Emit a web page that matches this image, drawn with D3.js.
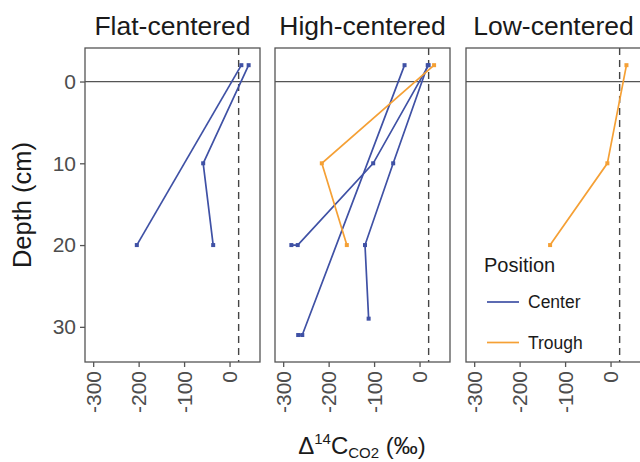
<!DOCTYPE html>
<html>
<head>
<meta charset="utf-8">
<script src="https://cdn.jsdelivr.net/npm/d3@7/dist/d3.min.js"></script>
<style>
  body { margin: 0; background: #fff; }
  svg { display: block; font-family: "Liberation Sans", Arial, sans-serif; }
</style>
</head>
<body>
<svg id="chart" width="640" height="462"></svg>
<script>
// ---------------- data ----------------
const facets = ["Flat-centered", "High-centered", "Low-centered"];
const positions = ["Center", "Trough"];
const xTicks = [-300, -200, -100, 0];
const yTicks = [0, 10, 20, 30];
const atmosphereValue = 20;   // dashed reference line (‰)

// each profile: facet, position, depths (cm), Δ14C values (‰)
const flatCenter1Depth = [-2, 20];
const flatCenter1Value = [26, -204];
const flatCenter2Depth = [-2, 10, 20];
const flatCenter2Value = [42, -58, -36];

const highCenter1Depth = [-2, 31, 31];
const highCenter1Value = [-33, -258, -267];
const highCenter2Depth = [-2, 10, 20, 20];
const highCenter2Value = [20, -102, -268, -282];
const highCenter3Depth = [-2, 10, 20, 29];
const highCenter3Value = [18, -58, -120, -112];
const highTrough1Depth = [-2, 10, 20];
const highTrough1Value = [32, -215, -160];

const lowTrough1Depth = [-2, 10, 20];
const lowTrough1Value = [35, -7, -133];

const profiles = [
  { facet: "Flat-centered", position: "Center", depth: flatCenter1Depth, value: flatCenter1Value },
  { facet: "Flat-centered", position: "Center", depth: flatCenter2Depth, value: flatCenter2Value },
  { facet: "High-centered", position: "Center", depth: highCenter1Depth, value: highCenter1Value },
  { facet: "High-centered", position: "Center", depth: highCenter2Depth, value: highCenter2Value },
  { facet: "High-centered", position: "Center", depth: highCenter3Depth, value: highCenter3Value },
  { facet: "High-centered", position: "Trough", depth: highTrough1Depth, value: highTrough1Value },
  { facet: "Low-centered",  position: "Trough", depth: lowTrough1Depth,  value: lowTrough1Value }
];

// ---------------- layout ----------------
const svg = d3.select("#chart");
const panelLefts = [85, 275, 466];
const panelWidth = 175;
const plotTop = 48, plotBottom = 362;
const color = d3.scaleOrdinal().domain(positions).range(["#3F51A5", "#F5A035"]);
const tickColor = "#4d4d4d";

const y = d3.scaleLinear().domain([-4.1, 34.3]).range([plotTop, plotBottom]);

facets.forEach((f, i) => {
  const x0 = panelLefts[i];
  const x = d3.scaleLinear().domain([-318, 67]).range([x0, x0 + panelWidth]);
  const g = svg.append("g");

  // strip title
  g.append("text")
    .attr("x", x0 + panelWidth / 2).attr("y", 35)
    .attr("text-anchor", "middle")
    .attr("font-size", 26.5).attr("fill", "#1a1a1a")
    .text(f);

  // zero depth line
  g.append("line")
    .attr("x1", x0).attr("x2", x0 + panelWidth)
    .attr("y1", y(0)).attr("y2", y(0))
    .attr("stroke", "#555").attr("stroke-width", 1.2);

  // atmosphere dashed line
  g.append("line")
    .attr("x1", x(atmosphereValue)).attr("x2", x(atmosphereValue))
    .attr("y1", plotTop).attr("y2", plotBottom)
    .attr("stroke", "#444").attr("stroke-width", 1.4)
    .attr("stroke-dasharray", "7,5");

  // profiles
  profiles.filter(p => p.facet === f).forEach(p => {
    const pts = p.depth.map((d, k) => [p.value[k], d]);
    g.append("path")
      .datum(pts)
      .attr("fill", "none")
      .attr("stroke", color(p.position))
      .attr("stroke-width", 1.7)
      .attr("d", d3.line().x(d => x(d[0])).y(d => y(d[1])));
    g.selectAll(null).data(pts).enter().append("rect")
      .attr("x", d => x(d[0]) - 2).attr("y", d => y(d[1]) - 2)
      .attr("width", 4).attr("height", 4)
      .attr("fill", color(p.position));
  });

  // panel border
  g.append("rect")
    .attr("x", x0).attr("y", plotTop)
    .attr("width", panelWidth).attr("height", plotBottom - plotTop)
    .attr("fill", "none").attr("stroke", "#555").attr("stroke-width", 1.3);

  // x axis
  const xa = g.append("g").attr("transform", `translate(0,${plotBottom})`)
    .call(d3.axisBottom(x).tickValues(xTicks).tickSize(5).tickPadding(4).tickFormat(d => String(d)));
  xa.select(".domain").remove();
  xa.selectAll(".tick line").attr("stroke", "#555").attr("stroke-width", 1.3);
  xa.selectAll(".tick text")
    .attr("font-size", 21).attr("fill", tickColor)
    .attr("transform", "rotate(-90)")
    .attr("text-anchor", "end")
    .attr("x", -9).attr("y", 0).attr("dy", "0.35em");

  // y axis on first panel only
  if (i === 0) {
    const ya = g.append("g").attr("transform", `translate(${x0},0)`)
      .call(d3.axisLeft(y).tickValues(yTicks).tickSize(5).tickPadding(4));
    ya.select(".domain").remove();
    ya.selectAll(".tick line").attr("stroke", "#555").attr("stroke-width", 1.3);
    ya.selectAll(".tick text").attr("font-size", 21).attr("fill", tickColor);
  }
});

// y axis title
svg.append("text")
  .attr("transform", `translate(31,${(plotTop + plotBottom) / 2}) rotate(-90)`)
  .attr("text-anchor", "middle")
  .attr("font-size", 25.5).attr("fill", "#1a1a1a")
  .text("Depth (cm)");

// x axis title
const xt = svg.append("text")
  .attr("x", 362).attr("y", 454)
  .attr("text-anchor", "middle")
  .attr("font-size", 24).attr("fill", "#1a1a1a");
xt.append("tspan").text("Δ");
xt.append("tspan").attr("font-size", 15).attr("dy", -10).text("14");
xt.append("tspan").attr("dy", 10).text("C");
xt.append("tspan").attr("font-size", 15).attr("dy", 4).text("CO2");
xt.append("tspan").attr("dy", -4).text(" (‰)");

// legend
const lg = svg.append("g");
lg.append("text").attr("x", 484).attr("y", 272)
  .attr("font-size", 20).attr("fill", "#1a1a1a").text("Position");
positions.forEach((p, k) => {
  const ly = 302 + k * 40.5;
  lg.append("line").attr("x1", 487).attr("x2", 519).attr("y1", ly).attr("y2", ly)
    .attr("stroke", color(p)).attr("stroke-width", 1.7);
  lg.append("text").attr("x", 528).attr("y", ly + 6)
    .attr("font-size", 17.5).attr("fill", "#1a1a1a").text(p);
});
</script>
</body>
</html>
